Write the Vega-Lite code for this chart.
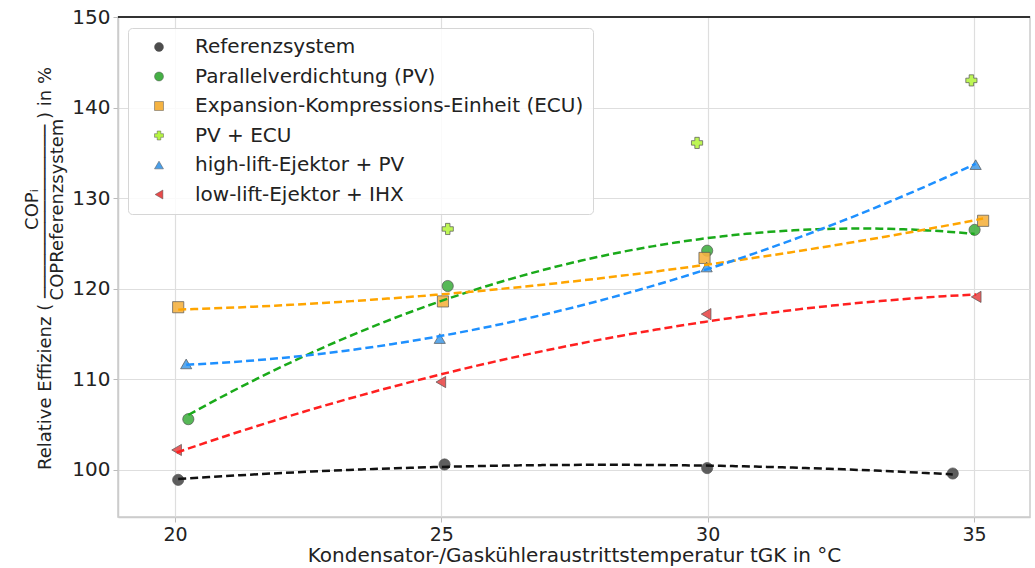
{
  "$schema": "https://vega.github.io/schema/vega-lite/v6.json",
  "autosize": "none",
  "width": 912,
  "height": 500,
  "padding": {"left": 118, "top": 17, "right": 5, "bottom": 51},
  "background": "white",
  "config": {
    "font": "DejaVu Sans",
    "view": {"stroke": "#cccccc", "strokeWidth": 1.5},
    "axis": {
      "labelFont": "DejaVu Sans",
      "titleFont": "DejaVu Sans",
      "labelFontSize": 20,
      "titleFontSize": 18,
      "labelColor": "#222",
      "titleColor": "#222",
      "titleFontWeight": "normal",
      "gridColor": "#dedede",
      "gridWidth": 1.2,
      "domainColor": "#cccccc",
      "domainWidth": 1.5,
      "tickColor": "#bbbbbb",
      "tickSize": 5
    }
  },
  "data": {
    "values": [
      {"series": "Referenzsystem", "temp": 20.06, "eff": 98.9},
      {"series": "Referenzsystem", "temp": 25.06, "eff": 100.6},
      {"series": "Referenzsystem", "temp": 29.99, "eff": 100.2},
      {"series": "Referenzsystem", "temp": 34.6, "eff": 99.6},
      {"series": "Parallelverdichtung (PV)", "temp": 20.25, "eff": 105.6},
      {"series": "Parallelverdichtung (PV)", "temp": 25.12, "eff": 120.3},
      {"series": "Parallelverdichtung (PV)", "temp": 29.99, "eff": 124.2},
      {"series": "Parallelverdichtung (PV)", "temp": 35.01, "eff": 126.5},
      {"series": "Expansion-Kompressions-Einheit (ECU)", "temp": 20.06, "eff": 117.96},
      {"series": "Expansion-Kompressions-Einheit (ECU)", "temp": 25.03, "eff": 118.6},
      {"series": "Expansion-Kompressions-Einheit (ECU)", "temp": 29.94, "eff": 123.4},
      {"series": "Expansion-Kompressions-Einheit (ECU)", "temp": 35.17, "eff": 127.5},
      {"series": "PV + ECU", "temp": 25.12, "eff": 126.6},
      {"series": "PV + ECU", "temp": 29.8, "eff": 136.1},
      {"series": "PV + ECU", "temp": 34.95, "eff": 143.0},
      {"series": "high-lift-Ejektor + PV", "temp": 20.21, "eff": 111.7},
      {"series": "high-lift-Ejektor + PV", "temp": 24.97, "eff": 114.5},
      {"series": "high-lift-Ejektor + PV", "temp": 29.98, "eff": 122.4},
      {"series": "high-lift-Ejektor + PV", "temp": 35.03, "eff": 133.7},
      {"series": "low-lift-Ejektor + IHX", "temp": 20.03, "eff": 102.2},
      {"series": "low-lift-Ejektor + IHX", "temp": 24.99, "eff": 109.7},
      {"series": "low-lift-Ejektor + IHX", "temp": 29.97, "eff": 117.2},
      {"series": "low-lift-Ejektor + IHX", "temp": 35.04, "eff": 119.1}
    ]
  },
  "resolve": {"axis": {"y": "independent"}},
  "layer": [
    {
      "mark": {"type": "point", "filled": true, "size": 125, "stroke": "#555555", "strokeWidth": 1, "strokeOpacity": 0.7, "fillOpacity": 0.9},
      "encoding": {
        "x": {
          "field": "temp", "type": "quantitative",
          "scale": {"domain": [18.93, 36.05], "nice": false, "zero": false},
          "axis": {"values": [20, 25, 30, 35], "title": "Kondensator-/Gaskühleraustrittstemperatur tGK in °C", "titleFontSize": 20, "titleBaseline": "alphabetic", "titleY": 44, "labelPadding": 3, "labelFontSize": 19}
        },
        "y": {
          "field": "eff", "type": "quantitative",
          "scale": {"domain": [94.8, 150], "nice": false, "zero": false},
          "axis": {
            "orient": "left",
            "values": [100, 110, 120, 130, 140, 150],
            "labelPadding": 3,
            "titleBaseline": "alphabetic",
            "titleAlign": "center",
            "titleAngle": -90,
            "titleX": -68,
            "titleY": 251,
            "title": "Relative Effizienz ( ──────────────── ) in %"
          }
        },
        "fill": {
          "field": "series", "type": "nominal",
          "scale": {
            "domain": ["Referenzsystem", "Parallelverdichtung (PV)", "Expansion-Kompressions-Einheit (ECU)", "PV + ECU", "high-lift-Ejektor + PV", "low-lift-Ejektor + IHX"],
            "range": ["#4d4d4d", "#45b045", "#f5b342", "#b6f542", "#4a9ee8", "#e84a4a"]
          },
          "legend": {
            "title": null,
            "orient": "none",
            "legendX": 10,
            "legendY": 11,
            "fillColor": "rgba(255,255,255,0.85)",
            "strokeColor": "#d6d6d6",
            "cornerRadius": 4,
            "padding": 9,
            "rowPadding": 9.5,
            "symbolSize": 80,
            "symbolOffset": 12,
            "labelOffset": 26,
            "labelFontSize": 20,
            "labelFont": "DejaVu Sans",
            "labelColor": "#222",
            "labelLimit": 500,
            "symbolStrokeColor": "#777777",
            "symbolStrokeWidth": 0.5
          }
        },
        "shape": {
          "field": "series", "type": "nominal",
          "scale": {
            "domain": ["Referenzsystem", "Parallelverdichtung (PV)", "Expansion-Kompressions-Einheit (ECU)", "PV + ECU", "high-lift-Ejektor + PV", "low-lift-Ejektor + IHX"],
            "range": ["circle", "circle", "square", "cross", "triangle-up", "triangle-left"]
          }
        }
      }
    },
    {
      "transform": [
        {"filter": "datum.series !== 'PV + ECU'"},
        {"regression": "eff", "on": "temp", "groupby": ["series"], "method": "poly", "order": 2}
      ],
      "mark": {"type": "line", "strokeDash": [8, 4], "strokeWidth": 2.5, "interpolate": "monotone"},
      "encoding": {
        "x": {"field": "temp", "type": "quantitative"},
        "y": {
          "field": "eff", "type": "quantitative",
          "axis": {
            "orient": "left",
            "labels": false, "ticks": false, "domain": false, "grid": false,
            "titleBaseline": "alphabetic",
            "titleAlign": "center",
            "titleAngle": -90,
            "titleX": -81,
            "titleY": 192,
            "title": "COPᵢ"
          }
        },
        "stroke": {
          "field": "series", "type": "nominal",
          "scale": {
            "domain": ["Referenzsystem", "Parallelverdichtung (PV)", "Expansion-Kompressions-Einheit (ECU)", "high-lift-Ejektor + PV", "low-lift-Ejektor + IHX"],
            "range": ["#111111", "#1aaa1a", "#ffa500", "#1e90ff", "#ff2020"]
          },
          "legend": null
        },
        "detail": {"field": "series", "type": "nominal"}
      }
    },
    {
      "mark": {"type": "rule", "color": "#333333", "strokeWidth": 1.5},
      "encoding": {
        "y": {
          "datum": 150,
          "axis": {
            "orient": "left",
            "labels": false, "ticks": false, "domain": false, "grid": false,
            "titleBaseline": "alphabetic",
            "titleAlign": "center",
            "titleAngle": -90,
            "titleX": -56,
            "titleY": 192,
            "title": "COPReferenzsystem"
          }
        }
      }
    }
  ]
}
